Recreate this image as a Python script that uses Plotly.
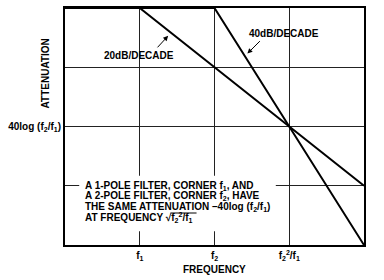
import plotly.graph_objects as go

# Data (normalised: frequency in decade-like steps, attenuation in grid steps, increasing downward)
one_pole_freq = [0, 1, 4]
one_pole_atten = [0, 0, 3]
two_pole_freq = [0, 2, 4]
two_pole_atten = [0, 0, 4]

x_tick_vals = [1, 2, 3]
x_tick_text = ["f<sub>1</sub>", "f<sub>2</sub>", "f<sub>2</sub><sup>2</sup>/f<sub>1</sub>"]
y_tick_vals = [2]
y_tick_text = ["40log (f<sub>2</sub>/f<sub>1</sub>)"]

note_lines = [
    "A 1-POLE FILTER, CORNER f<sub>1</sub>, AND",
    "A 2-POLE FILTER, CORNER f<sub>2</sub>, HAVE",
    "THE SAME ATTENUATION \u201340log (f<sub>2</sub>/f<sub>1</sub>)",
    "AT FREQUENCY \u221Af<sub>2</sub><sup>2</sup>/f<sub>1</sub>",
]

FONT = dict(family="Liberation Sans, Arial, sans-serif", size=10, color="black", weight="bold")

fig = go.Figure()
fig.add_trace(go.Scatter(x=one_pole_freq, y=one_pole_atten, mode="lines",
                         line=dict(color="black", width=2), showlegend=False, hoverinfo="skip"))
fig.add_trace(go.Scatter(x=two_pole_freq, y=two_pole_atten, mode="lines",
                         line=dict(color="black", width=2), showlegend=False, hoverinfo="skip"))

# white box behind note
fig.add_shape(type="rect", x0=0.19, x1=2.82, y0=2.83, y1=3.77, xref="x", yref="y",
              fillcolor="white", line=dict(width=0), layer="above")

ys = [3.01, 3.18, 3.355, 3.54]
for t, yv in zip(note_lines, ys):
    fig.add_annotation(x=0.24, y=yv, xref="x", yref="y", text=t, showarrow=False,
                       xanchor="left", yanchor="middle", font=FONT)
# sqrt overline
fig.add_shape(type="line", x0=1.41, x1=1.76, y0=3.46, y1=3.46, xref="x", yref="y",
              line=dict(color="black", width=1), layer="above")

# slope labels
fig.add_annotation(x=0.99, y=0.80, text="20dB/DECADE", showarrow=False, font=FONT)
fig.add_annotation(x=2.93, y=0.43, text="40dB/DECADE", showarrow=False, font=FONT)
fig.add_annotation(x=1.38, y=0.47, ax=-12, ay=13, text="", showarrow=True,
                   arrowhead=2, arrowsize=1, arrowwidth=1, arrowcolor="black", standoff=0)
fig.add_annotation(x=2.44, y=0.77, ax=14, ay=-14, text="", showarrow=True,
                   arrowhead=2, arrowsize=1, arrowwidth=1, arrowcolor="black", standoff=0)

# axis titles
fig.add_annotation(x=-0.067, y=0.724, xref="paper", yref="paper", text="ATTENUATION",
                   textangle=-90, showarrow=False, font=FONT, xanchor="center", yanchor="middle")
fig.add_annotation(x=2, y=-0.105, xref="x", yref="paper", text="FREQUENCY",
                   showarrow=False, font=FONT, xanchor="center", yanchor="middle")

fig.update_xaxes(range=[0, 4], tickvals=x_tick_vals, ticktext=x_tick_text, tickfont=FONT,
                 showgrid=True, gridcolor="#222", gridwidth=1, zeroline=False,
                 showline=True, linecolor="black", linewidth=2, mirror=True, ticks="",
                 fixedrange=True)
fig.update_yaxes(range=[4, 0], tickvals=y_tick_vals, ticktext=y_tick_text, tickfont=FONT,
                 showgrid=True, gridcolor="#222", gridwidth=1, zeroline=False,
                 showline=True, linecolor="black", linewidth=2, mirror=True, ticks="",
                 fixedrange=True)
fig.update_yaxes(minor=dict(tickvals=[1, 3], showgrid=True, gridcolor="#222", gridwidth=1))

fig.update_layout(width=384, height=280, margin=dict(l=65, r=20, t=6, b=35),
                  plot_bgcolor="white", paper_bgcolor="white")
fig.write_html("out.html")
